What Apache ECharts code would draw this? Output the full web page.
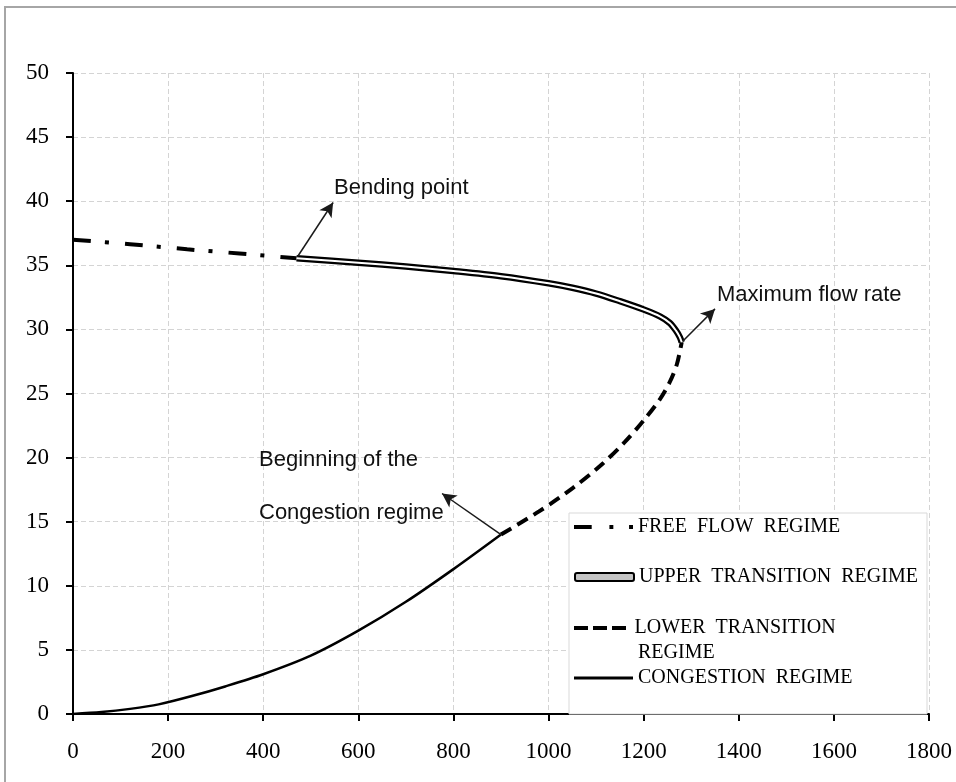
<!DOCTYPE html>
<html>
<head>
<meta charset="utf-8">
<script src="https://cdn.jsdelivr.net/npm/echarts@6/dist/echarts.min.js"></script>
<style>
html,body{margin:0;padding:0;background:#fff;}
#chart{width:956px;height:782px;}
</style>
</head>
<body>
<div id="chart"></div>
<script>
// ---- data (flow, speed) ----
const freeFlow = [[0,37.0],[120,36.65],[240,36.25],[350,35.92],[470,35.55]];
const upperTransition = [[470,35.55],[600,35.2],[700,34.9],[800,34.55],[900,34.15],[1000,33.6],[1050,33.25],[1100,32.8],[1150,32.2],[1200,31.55],[1235,31.0],[1255,30.5],[1268,29.9],[1276,29.4],[1280,29.0]];
const lowerTransition = [[900,14.0],[980,15.8],[1050,17.6],[1110,19.4],[1160,21.2],[1200,22.9],[1235,24.6],[1255,25.9],[1270,27.3],[1280,29.0]];
const congestion = [[0,0],[60,0.15],[120,0.4],[180,0.75],[250,1.4],[320,2.15],[400,3.1],[500,4.55],[600,6.5],[700,8.75],[800,11.3],[900,14.0]];
const xTicks = {min: 0, max: 1800, interval: 200};
const yTicks = {min: 0, max: 50, interval: 5};
// annotation arrows: [from, to]
const arrowBending = [[470,35.55],[547,39.9]];
const arrowMaxFlow = [[1280,29.0],[1350,31.6]];
const arrowCongestion = [[900,14.0],[776,17.2]];
const seriesNames = ['FREE FLOW REGIME','UPPER TRANSITION REGIME','LOWER TRANSITION REGIME','CONGESTION REGIME'];

const chart = echarts.init(document.getElementById('chart'), null, {renderer:'canvas'});
const serif = 'Liberation Serif';
const legendText = {fontFamily: serif, fontSize: 20, color: '#000', lineHeight: 20};
const spaced = n => n.replace(/ /g, '  ');

function legendFor(name, top, iconDef, h) {
  return {
    data: [name], orient: 'vertical', left: 574, top: top, padding: 0,
    itemWidth: 59, itemHeight: h, icon: iconDef.icon,
    itemStyle: iconDef.itemStyle, selectedMode: false,
    textStyle: legendText,
    formatter: n => n === seriesNames[2] ? 'LOWER  TRANSITION' : spaced(n)
  };
}

const arrowLine = (pair) => [{coord: pair[0]}, {coord: pair[1]}];

const option = {
  animation: false,
  grid: {left: 73, right: 27, top: 73, bottom: 68},
  xAxis: {
    type: 'value', min: xTicks.min, max: xTicks.max, interval: xTicks.interval,
    axisLine: {show: true, lineStyle: {color: '#000', width: 2}},
    axisTick: {show: true, inside: false, length: 7, lineStyle: {color: '#000', width: 2}},
    axisLabel: {fontFamily: serif, fontSize: 23, color: '#000', margin: 26, formatter: v => String(v)},
    splitLine: {show: true, lineStyle: {color: '#d4d4d4', type: [5,3], width: 1}}
  },
  yAxis: {
    type: 'value', min: yTicks.min, max: yTicks.max, interval: yTicks.interval,
    axisLine: {show: true, lineStyle: {color: '#000', width: 2}},
    axisTick: {show: true, inside: false, length: 7, lineStyle: {color: '#000', width: 2}},
    axisLabel: {fontFamily: serif, fontSize: 23, color: '#000', margin: 24, formatter: v => String(v)},
    splitLine: {show: true, lineStyle: {color: '#d4d4d4', type: [5,3], width: 1}}
  },
  legend: [
    legendFor(seriesNames[0], 517, {icon: 'path://M0,0h18v4h-18z M36,0h4v4h-4z M56,0h4v4h-4z', itemStyle: {color: '#000', borderWidth: 0}}, 4),
    legendFor(seriesNames[1], 567, {icon: 'roundRect', itemStyle: {color: '#c4c4c4', borderColor: '#000', borderWidth: 2}}, 8),
    legendFor(seriesNames[2], 618, {icon: 'path://M0,0h14v4h-14z M19,0h14v4h-14z M38,0h14v4h-14z', itemStyle: {color: '#000', borderWidth: 0}}, 4),
    legendFor(seriesNames[3], 668, {icon: 'rect', itemStyle: {color: '#000', borderWidth: 0}}, 3)
  ],
  series: [
    {name: seriesNames[0], type: 'line', data: freeFlow, symbol: 'none', smooth: 0.3,
     lineStyle: {color: '#000', width: 4, type: [18,14,4,16]}, z: 3},
    {name: seriesNames[2], type: 'line', data: lowerTransition, symbol: 'none', smooth: 0.3,
     lineStyle: {color: '#000', width: 4, type: [12,7]}, z: 3},
    {name: seriesNames[3], type: 'line', data: congestion, symbol: 'none', smooth: 0.3,
     lineStyle: {color: '#000', width: 2.5}, z: 3,
     markLine: {
       silent: true, animation: false, symbol: ['none', 'arrow'], symbolSize: [11, 14],
       label: {show: false},
       lineStyle: {color: '#1a1a1a', width: 1.5, type: 'solid'},
       data: [arrowLine(arrowBending), arrowLine(arrowMaxFlow), arrowLine(arrowCongestion)]
     }},
    {name: seriesNames[1], type: 'line', data: upperTransition, symbol: 'none', smooth: 0.3,
     lineStyle: {color: '#000', width: 6.5}, z: 4},
    {name: 'upperInner', type: 'line', data: upperTransition, symbol: 'none', smooth: 0.3, silent: true,
     lineStyle: {color: '#fff', width: 2}, z: 5}
  ],
  graphic: [
    {type: 'rect', z: -1, silent: true, shape: {x: 5, y: 7, width: 1000, height: 1000},
     style: {fill: 'none', stroke: '#a6a6a6', lineWidth: 2}},
    {type: 'rect', z: 3, silent: true, shape: {x: 569, y: 513, width: 358, height: 201},
     style: {fill: '#fff', stroke: '#d9d9d9', lineWidth: 1}},
    {type: 'text', z: 10, silent: true, x: 638, y: 653,
     style: {text: 'REGIME', font: '20px "Liberation Serif"', fill: '#000', verticalAlign: 'middle'}},
    {type: 'text', z: 10, silent: true, x: 334, y: 188,
     style: {text: 'Bending point', font: '22px "Liberation Sans"', fill: '#111', verticalAlign: 'middle'}},
    {type: 'text', z: 10, silent: true, x: 717, y: 295,
     style: {text: 'Maximum flow rate', font: '22px "Liberation Sans"', fill: '#111', verticalAlign: 'middle'}},
    {type: 'text', z: 10, silent: true, x: 259, y: 460,
     style: {text: 'Beginning of the', font: '22px "Liberation Sans"', fill: '#111', verticalAlign: 'middle'}},
    {type: 'text', z: 10, silent: true, x: 259, y: 513,
     style: {text: 'Congestion regime', font: '22px "Liberation Sans"', fill: '#111', verticalAlign: 'middle'}}
  ]
};
chart.setOption(option);
</script>
</body>
</html>
